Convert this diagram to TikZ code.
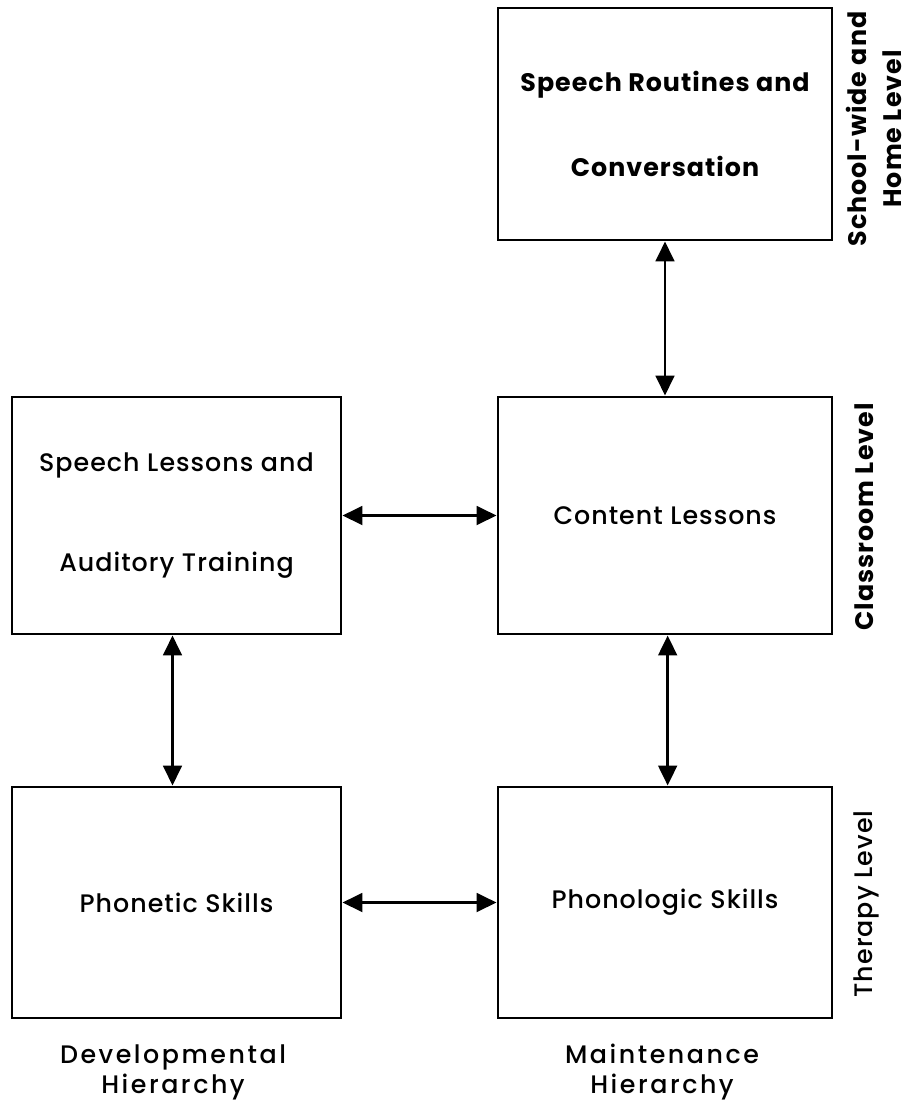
\documentclass[tikz,border=0pt]{standalone}
\usepackage{fontspec}
\setmainfont{Poppins}[LetterSpace=4,UprightFont=* Medium,BoldFont=* Bold]
\usetikzlibrary{arrows.meta}

\begin{document}
\begin{tikzpicture}
[x=0.75pt,y=-0.75pt,%
  line width=2.2pt,%
  >={Triangle[length=15pt,width=14pt]},%
  every node/.style={inner sep=0pt,align=center},%
  box/.style={draw,line width=2.2pt},%
  lvl/.style={rotate=90},%
  hier/.style={font=\addfontfeatures{LetterSpace=10}}]
\fontsize{19}{23}\selectfont
\useasboundingbox (0,0) rectangle (910,1108);
\node[box,font=\bfseries,minimum width=250.5pt,minimum height=174pt] (routines) at (665,124)
  {Speech Routines and\\[40.75pt]Conversation};
\node[box,minimum width=246.75pt,minimum height=177.75pt] (speech) at (176.5,515.5)
  {Speech Lessons and\\[52pt]Auditory Training};
\node[box,minimum width=250.5pt,minimum height=177.75pt] (content) at (665,515.5)
  {Content Lessons};
\node[box,minimum width=246.75pt,minimum height=173.25pt] (phonetic) at (176.5,902.5)
  {Phonetic Skills};
\node[box,minimum width=250.5pt,minimum height=173.25pt] (phonologic) at (665,902.5)
  {Phonologic Skills};
\draw[<->] (routines) -- (content);
\draw[<->] (speech) -- (content);
\draw[<->] ([xshift=-3pt]speech.south) -- ([xshift=-3pt]phonetic.north);
\draw[<->] ([xshift=2pt]content.south) -- ([xshift=2pt]phonologic.north);
\draw[<->] (phonetic) -- (phonologic);
\node[lvl,font=\bfseries] (home) at (874,129) {School-wide and\\[3.25pt]Home Level};
\node[lvl,font=\bfseries] (classroom) at (864,517) {Classroom Level};
\node[lvl] (therapy) at (866,904) {Therapy Level};
\node[hier] (devel) at (173,1072) {Developmental\\[-0.5pt]Hierarchy};
\node[hier] (maint) at (662,1072) {Maintenance\\[-0.5pt]Hierarchy};
\end{tikzpicture}
\end{document}
